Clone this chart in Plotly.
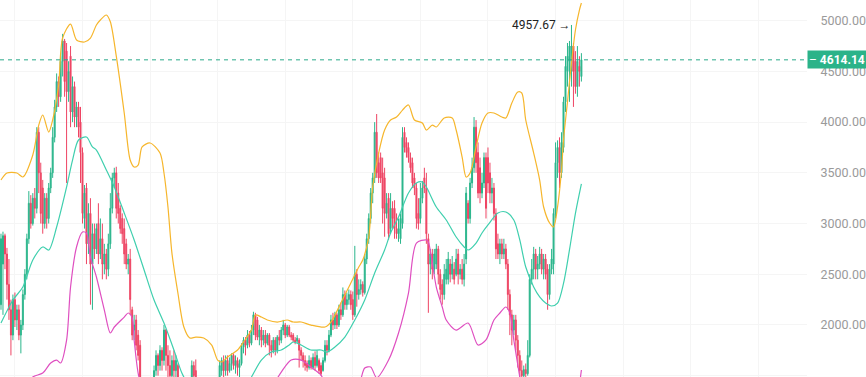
import plotly.graph_objects as go

# ---- candle data (index = candle number) ----
opens = [
    2200, 2600, 2880, 2700, 2400, 2150, 1900, 2250, 2050, 2150,
    1900, 2000, 2300, 2500, 2850, 3200, 3000, 3250, 3150, 3900,
    3500, 3350, 3000, 3250, 3050, 3350, 3500, 3850, 4150, 4400,
    4250, 4600, 4800, 4700, 4300, 4650, 4100, 4350, 4050, 4150,
    4000, 3700, 3050, 3350, 2800, 3100, 2600, 2900, 2750, 3000,
    2700, 2850, 2600, 2700, 2550, 2800, 3150, 3450, 3500, 3300,
    3150, 3050, 2950, 2800, 2600, 2650, 2150, 1950, 2050, 1900,
    1800, 1450, 1400, 1350, 1300, 1350, 1400, 1400, 1550, 1700,
    1600, 1750, 1650, 1950, 1700, 1600, 1500, 1650, 1550, 1600,
    1450, 1400, 1350, 1380, 1330, 1380, 1420, 1600, 1550, 1450,
    1400, 1350, 1300, 1280, 1320, 1300, 1350, 1330, 1380, 1420,
    1400, 1550, 1650, 1550, 1650, 1550, 1620, 1700, 1600, 1650,
    1580, 1620, 1780, 1850, 1800, 1900, 1820, 1950, 2100, 2050,
    1880, 1950, 1850, 1900, 1820, 1900, 1800, 1750, 1850, 1750,
    1880, 1850, 1950, 2000, 1900, 1980, 1900, 1900, 1850, 1840,
    1850, 1750, 1700, 1650, 1620, 1580, 1650, 1580, 1680, 1600,
    1650, 1600, 1550, 1650, 1800, 1750, 1900, 2050, 2000, 2100,
    2000, 2150, 2100, 2300, 2200, 2250, 2300, 2250, 2100, 2500,
    2300, 2350, 2400, 2320, 2650, 2850, 3050, 3300, 3450, 3900,
    3600, 3650, 3500, 3450, 3100, 3250, 2950, 3150, 3150, 2950,
    2900, 2850, 3000, 3900, 3800, 3750, 3650, 3600, 3450, 3350,
    3100, 3050, 3250, 3450, 3350, 2850, 2600, 2700, 2550, 2600,
    2750, 2500, 2400, 2300, 2450, 2450, 2600, 2500, 2550, 2500,
    2700, 2500, 2550, 2450, 2650, 3200, 3050, 3400, 3550, 3950,
    3700, 3550, 3300, 3400, 3650, 3650, 3500, 3300, 3350, 3100,
    2800, 2700, 2800, 2700, 2750, 2600, 2300, 2100, 1950, 2050,
    1850, 1700, 1550, 1500, 1560, 1520, 1700, 2450, 2550, 2700,
    2550, 2600, 2700, 2550, 2650, 2550, 2300, 2550, 2600, 3100,
    3600, 3750, 3500, 3750, 4200, 4500, 4600, 4500, 4750, 4600,
    4350, 4550, 4450,
]
highs = [
    2900, 2920, 2900, 2760, 2650, 2250, 2300, 2320, 2200, 2200,
    2050, 2350, 2550, 2900, 3320, 3280, 3300, 3350, 3950, 3950,
    3600, 3430, 3300, 3300, 3400, 3550, 3950, 4220, 4480, 4450,
    4650, 4870, 4820, 4780, 4600, 4750, 4450, 4400, 4200, 4200,
    4150, 3750, 3380, 3400, 3200, 3250, 3000, 3000, 3000, 3200,
    3050, 3000, 2800, 2750, 2900, 3300, 3500, 3550, 3560, 3400,
    3180, 3100, 3050, 2850, 2700, 2750, 2180, 2100, 2100, 1950,
    1850, 1480, 1450, 1400, 1420, 1450, 1460, 1600, 1750, 1720,
    1800, 1780, 2000, 1960, 1800, 1750, 1700, 1750, 1700, 1620,
    1480, 1450, 1430, 1440, 1420, 1470, 1650, 1640, 1660, 1480,
    1450, 1400, 1350, 1380, 1370, 1400, 1400, 1430, 1460, 1470,
    1650, 1680, 1700, 1700, 1700, 1680, 1720, 1720, 1700, 1680,
    1660, 1820, 1880, 1880, 1950, 1940, 2000, 2130, 2120, 2080,
    2000, 1980, 1950, 1950, 1920, 1920, 1850, 1880, 1880, 1900,
    1950, 1980, 2050, 2020, 2000, 2000, 1930, 1920, 1880, 1900,
    1870, 1780, 1730, 1700, 1650, 1700, 1680, 1720, 1740, 1750,
    1670, 1630, 1680, 1850, 1850, 1950, 2100, 2120, 2130, 2120,
    2200, 2220, 2370, 2340, 2320, 2350, 2340, 2330, 2780, 2550,
    2450, 2450, 2430, 2700, 2900, 3100, 3350, 3500, 4000, 4080,
    3700, 3700, 3650, 3550, 3300, 3300, 3300, 3220, 3230, 3100,
    3050, 3100, 3950, 3950, 3850, 3800, 3700, 3650, 3500, 3400,
    3250, 3400, 3420, 3550, 3500, 2900, 2750, 2750, 2750, 2800,
    2780, 2550, 2450, 2600, 2650, 2720, 2650, 2680, 2620, 2750,
    2750, 2600, 2650, 2700, 3360, 3230, 3450, 3650, 4050, 4020,
    3800, 3650, 3500, 3700, 3700, 3750, 3600, 3450, 3400, 3150,
    2900, 2850, 2850, 2850, 2800, 2650, 2350, 2150, 2100, 2100,
    1900, 1750, 1650, 1600, 1620, 1850, 2500, 2650, 2770, 2750,
    2680, 2770, 2750, 2700, 2700, 2600, 2600, 2750, 3150, 3800,
    3820, 3850, 3900, 4250, 4650, 4780, 4800, 4957.67, 4780, 4700,
    4750, 4650, 4680,
]
lows = [
    2150, 2100, 2550, 2250, 2050, 1700, 1850, 1980, 1950, 1850,
    1720, 1950, 2250, 2450, 2800, 2950, 2980, 3050, 3100, 3300,
    3000, 2900, 2950, 2950, 3000, 3300, 3450, 3800, 4100, 4150,
    4200, 4450, 4250, 3400, 4200, 3950, 4000, 3950, 3950, 3850,
    3400, 3000, 2950, 2600, 2700, 2200, 2150, 2650, 2700, 2600,
    2650, 2450, 2500, 2450, 2480, 2750, 3100, 3350, 3050, 3000,
    2900, 2800, 2600, 2550, 2500, 2100, 1850, 1850, 1750, 1650,
    1400, 1350, 1300, 1250, 1250, 1300, 1330, 1380, 1500, 1500,
    1550, 1550, 1600, 1550, 1450, 1420, 1450, 1450, 1450, 1400,
    1350, 1300, 1300, 1280, 1300, 1330, 1400, 1450, 1400, 1350,
    1300, 1250, 1230, 1250, 1260, 1270, 1300, 1300, 1350, 1360,
    1380, 1500, 1480, 1500, 1500, 1530, 1550, 1560, 1520, 1500,
    1480, 1600, 1720, 1700, 1770, 1780, 1800, 1900, 1850, 1850,
    1800, 1780, 1800, 1780, 1800, 1700, 1680, 1720, 1700, 1720,
    1800, 1820, 1900, 1870, 1880, 1880, 1850, 1830, 1810, 1820,
    1580, 1650, 1580, 1550, 1540, 1560, 1560, 1560, 1550, 1580,
    1520, 1500, 1540, 1630, 1700, 1730, 1880, 1950, 1960, 1960,
    1980, 2050, 2080, 2150, 2150, 2200, 2150, 2050, 2080, 2180,
    2250, 2300, 2280, 2300, 2600, 2800, 3000, 3200, 3400, 3450,
    3400, 3400, 3000, 2870, 3050, 2840, 2900, 2950, 2850, 2850,
    2820, 2800, 2950, 3700, 3650, 3600, 3500, 3350, 3280, 2950,
    2940, 3000, 3200, 3300, 2800, 2120, 2500, 2450, 2500, 2550,
    2400, 2250, 2200, 2250, 2400, 2400, 2420, 2450, 2400, 2480,
    2400, 2450, 2400, 2380, 2600, 3000, 3000, 3350, 3500, 3500,
    3250, 3200, 3250, 3350, 3050, 3300, 3200, 3200, 3030, 2650,
    2650, 2600, 2650, 2650, 2550, 2150, 1900, 1800, 1900, 1750,
    1580, 1480, 1450, 1480, 1480, 1500, 1680, 2400, 2450, 2450,
    2450, 2550, 2500, 2450, 2450, 2150, 2250, 2500, 2500, 3050,
    3450, 3350, 3450, 3700, 4100, 4350, 4200, 4350, 4150, 4280,
    4250, 4350, 4400,
]
closes = [
    2850, 2880, 2700, 2400, 2150, 1900, 2250, 2050, 2150, 1900,
    2000, 2300, 2500, 2850, 3200, 3000, 3250, 3150, 3900, 3500,
    3100, 3000, 3250, 3050, 3350, 3500, 3850, 4150, 4400, 4250,
    4600, 4800, 4400, 4300, 4500, 4100, 4350, 4050, 4150, 3950,
    3700, 3100, 3300, 2800, 3100, 2600, 2900, 2750, 2950, 2700,
    2850, 2600, 2700, 2550, 2800, 3150, 3450, 3500, 3150, 3100,
    2950, 2900, 2700, 2600, 2650, 2250, 1900, 2000, 1800, 1700,
    1450, 1400, 1350, 1300, 1350, 1400, 1380, 1550, 1700, 1600,
    1750, 1650, 1950, 1700, 1600, 1500, 1650, 1550, 1650, 1450,
    1400, 1350, 1380, 1330, 1380, 1420, 1600, 1500, 1450, 1400,
    1350, 1300, 1280, 1320, 1300, 1350, 1330, 1380, 1420, 1400,
    1600, 1650, 1550, 1650, 1550, 1620, 1700, 1600, 1650, 1580,
    1620, 1780, 1850, 1800, 1900, 1820, 1950, 2100, 1900, 1880,
    1950, 1850, 1900, 1820, 1900, 1800, 1750, 1850, 1750, 1880,
    1850, 1950, 2000, 1900, 1980, 1900, 1880, 1850, 1830, 1870,
    1750, 1700, 1650, 1600, 1580, 1650, 1580, 1680, 1600, 1700,
    1550, 1520, 1650, 1800, 1750, 1900, 2050, 2000, 2100, 2000,
    2150, 2100, 2300, 2200, 2250, 2300, 2200, 2100, 2500, 2300,
    2350, 2400, 2320, 2650, 2850, 3050, 3300, 3450, 3900, 3500,
    3450, 3450, 3150, 3100, 3200, 2900, 3150, 3050, 2950, 2900,
    2950, 3050, 3850, 3750, 3700, 3650, 3550, 3400, 3350, 3050,
    3000, 3250, 3350, 3350, 2900, 2600, 2700, 2550, 2700, 2750,
    2500, 2350, 2300, 2500, 2550, 2650, 2500, 2600, 2450, 2650,
    2500, 2550, 2450, 2600, 3300, 3050, 3400, 3550, 3950, 3600,
    3300, 3300, 3400, 3650, 3150, 3400, 3300, 3350, 3100, 2750,
    2700, 2800, 2700, 2750, 2600, 2300, 2100, 1950, 2050, 1850,
    1700, 1550, 1500, 1560, 1520, 1700, 2450, 2550, 2700, 2550,
    2600, 2700, 2550, 2650, 2500, 2300, 2550, 2650, 3100, 3600,
    3750, 3500, 3800, 4200, 4550, 4650, 4750, 4750, 4500, 4350,
    4600, 4500, 4614.14,
]
candle_idx = list(range(len(closes)))

# ---- Bollinger bands (candle index, price) ----
upper_idx = [0, 3, 8, 11, 16, 19, 21, 24, 26, 29, 31, 35, 38, 42, 45, 48, 50, 53, 55, 58,
             62, 65, 67, 69, 71, 75, 80, 82, 84, 86, 89, 92, 95, 98, 102, 106, 109, 111,
             114, 119, 122, 126, 128, 131, 134, 139, 144, 147, 151, 156, 163, 166, 171,
             176, 180, 182, 185, 187, 190, 193, 196, 199, 202, 205, 208, 212, 214, 217,
             219, 223, 227, 229, 232, 234, 236, 239, 242, 245, 248, 252, 254, 257, 260,
             262, 264, 268, 271, 273, 276, 278, 280, 282, 283, 285, 287, 289, 291, 292]
upper_val = [3429, 3498, 3498, 3459, 3676, 3971, 4070, 3902, 4021, 4366, 4829, 4967, 4810,
             4790, 4829, 4958, 5007, 5056, 4990, 4650, 4090, 3626, 3557, 3577, 3755, 3794,
             3695, 3498, 3163, 2709, 2315, 1980, 1871, 1881, 1871, 1802, 1654, 1635, 1684,
             1753, 1832, 1950, 2098, 2078, 2049, 2029, 2049, 2029, 2029, 1999, 1980, 2029,
             2216, 2414, 2571, 2640, 2867, 3360, 3695, 3922, 4021, 4050, 4119, 4169, 4021,
             3991, 3922, 3971, 3952, 4041, 4041, 3922, 3656, 3459, 3498, 3755, 3991, 4090,
             4090, 4050, 4041, 4188, 4297, 4287, 4021, 3695, 3429, 3163, 3005, 2966, 3163,
             3528, 3824, 4200, 4583, 4908, 5105, 5174]

mid_idx = [0, 6, 11, 16, 21, 24, 28, 33, 36, 39, 43, 46, 48, 53, 57, 62, 67, 72, 77, 82,
           87, 91, 95, 100, 106, 113, 120, 126, 131, 136, 141, 145, 147, 151, 156, 161,
           164, 168, 173, 178, 183, 188, 193, 196, 200, 205, 209, 212, 214, 219, 224, 229,
           233, 235, 239, 242, 245, 250, 254, 258, 261, 264, 268, 271, 274, 277, 280, 283,
           286, 289, 292]
mid_val = [2019, 2246, 2374, 2641, 2769, 2739, 2966, 3360, 3626, 3824, 3853, 3755, 3725,
           3528, 3360, 3104, 2838, 2542, 2246, 2019, 1753, 1526, 1380, 1200, 1080, 1130,
           1300, 1487, 1654, 1733, 1753, 1802, 1832, 1802, 1753, 1753, 1733, 1783, 1881,
           2049, 2246, 2512, 2739, 2907, 3064, 3301, 3400, 3410, 3360, 3163, 3035, 2867,
           2769, 2739, 2808, 2907, 2986, 3104, 3114, 3035, 2838, 2571, 2374, 2276, 2216,
           2187, 2216, 2410, 2740, 3100, 3390]

lower_idx = [0, 8, 13, 16, 21, 25, 28, 30, 33, 35, 38, 41, 43, 45, 48, 52, 55, 57, 62, 64,
             66, 67, 69, 72, 78, 90, 100, 110, 120, 130, 136, 141, 146, 151, 156, 161, 165,
             172, 180, 183, 186, 189, 195, 200, 205, 209, 214, 215, 219, 222, 224, 229, 235,
             240, 244, 248, 251, 254, 256, 258, 261, 264, 270, 278, 285, 289, 291, 292]
lower_val = [700, 1150, 1400, 1487, 1526, 1625, 1654, 1625, 1851, 2374, 2769, 2916, 2907,
             2670, 2473, 2147, 1921, 1980, 2078, 2118, 2069, 1851, 1526, 1300, 1100, 900,
             850, 900, 1050, 1250, 1380, 1536, 1654, 1654, 1585, 1506, 1350, 1300, 1420,
             1575, 1585, 1480, 1654, 1921, 2315, 2808, 2838, 2818, 2374, 2177, 2049, 1950,
             2019, 1802, 1852, 2049, 2118, 2177, 2118, 1851, 1487, 1150, 850, 800, 900,
             1150, 1408, 1556]

y_ticks = [1500, 2000, 2500, 3000, 3500, 4000, 4500, 5000]
last_price = 4614.14
max_price = 4957.67
max_idx = 287

UP = "#2bb68c"
DOWN = "#ee4463"

fig = go.Figure()
fig.add_trace(go.Candlestick(
    x=candle_idx, open=opens, high=highs, low=lows, close=closes,
    increasing=dict(line=dict(color=UP, width=1), fillcolor=UP),
    decreasing=dict(line=dict(color=DOWN, width=1), fillcolor=DOWN),
    whiskerwidth=0, showlegend=False, hoverinfo="skip",
))
for xs, ys, col in [(upper_idx, upper_val, "#f6b62c"),
                    (mid_idx, mid_val, "#3fcfae"),
                    (lower_idx, lower_val, "#df4fc0")]:
    fig.add_trace(go.Scatter(x=xs, y=ys, mode="lines",
                             line=dict(color=col, width=1.2, shape="spline", smoothing=0.8),
                             showlegend=False, hoverinfo="skip"))

fig.add_shape(type="line", xref="paper", x0=0, x1=1, yref="y", y0=last_price, y1=last_price,
              line=dict(color="#2aa98a", width=1, dash="4px,4px"))

fig.add_annotation(x=1, xref="paper", y=last_price, yref="y", xanchor="left", yanchor="middle",
                   text="– <b>4614.14</b>", showarrow=False, align="left",
                   bgcolor="#2bb389", width=56, height=15, borderpad=1,
                   font=dict(family="Roboto", size=12, color="white"))
fig.add_annotation(x=max_idx, y=max_price, xref="x", yref="y", xanchor="right", yanchor="middle",
                   xshift=2, text="4957.67 →", showarrow=False,
                   font=dict(family="Roboto", size=12, color="#222222"))

fig.update_layout(
    width=866, height=377,
    margin=dict(l=0, r=54, t=0, b=0),
    paper_bgcolor="white", plot_bgcolor="white",
    xaxis=dict(range=[-0.5, 405.5], showticklabels=False, showgrid=True,
               gridcolor="#f5f5f5", tick0=7, dtick=34, zeroline=False,
               rangeslider=dict(visible=False), showline=False, fixedrange=True),
    yaxis=dict(side="right", range=[1487, 5204], tickvals=y_ticks,
               ticktext=[f"{v:.2f}" for v in y_ticks], showgrid=True, gridcolor="#f5f5f5",
               zeroline=False, showline=False, ticks="outside", ticklen=10,
               tickcolor="rgba(0,0,0,0)", fixedrange=True,
               tickfont=dict(family="Roboto", size=12.5, color="#9a9a9a")),
    hovermode=False,
)

fig.write_html(
    "out.html",
    config={"displayModeBar": False, "staticPlot": True},
    post_script="document.body.style.margin='0';document.body.style.overflow='hidden';",
)
